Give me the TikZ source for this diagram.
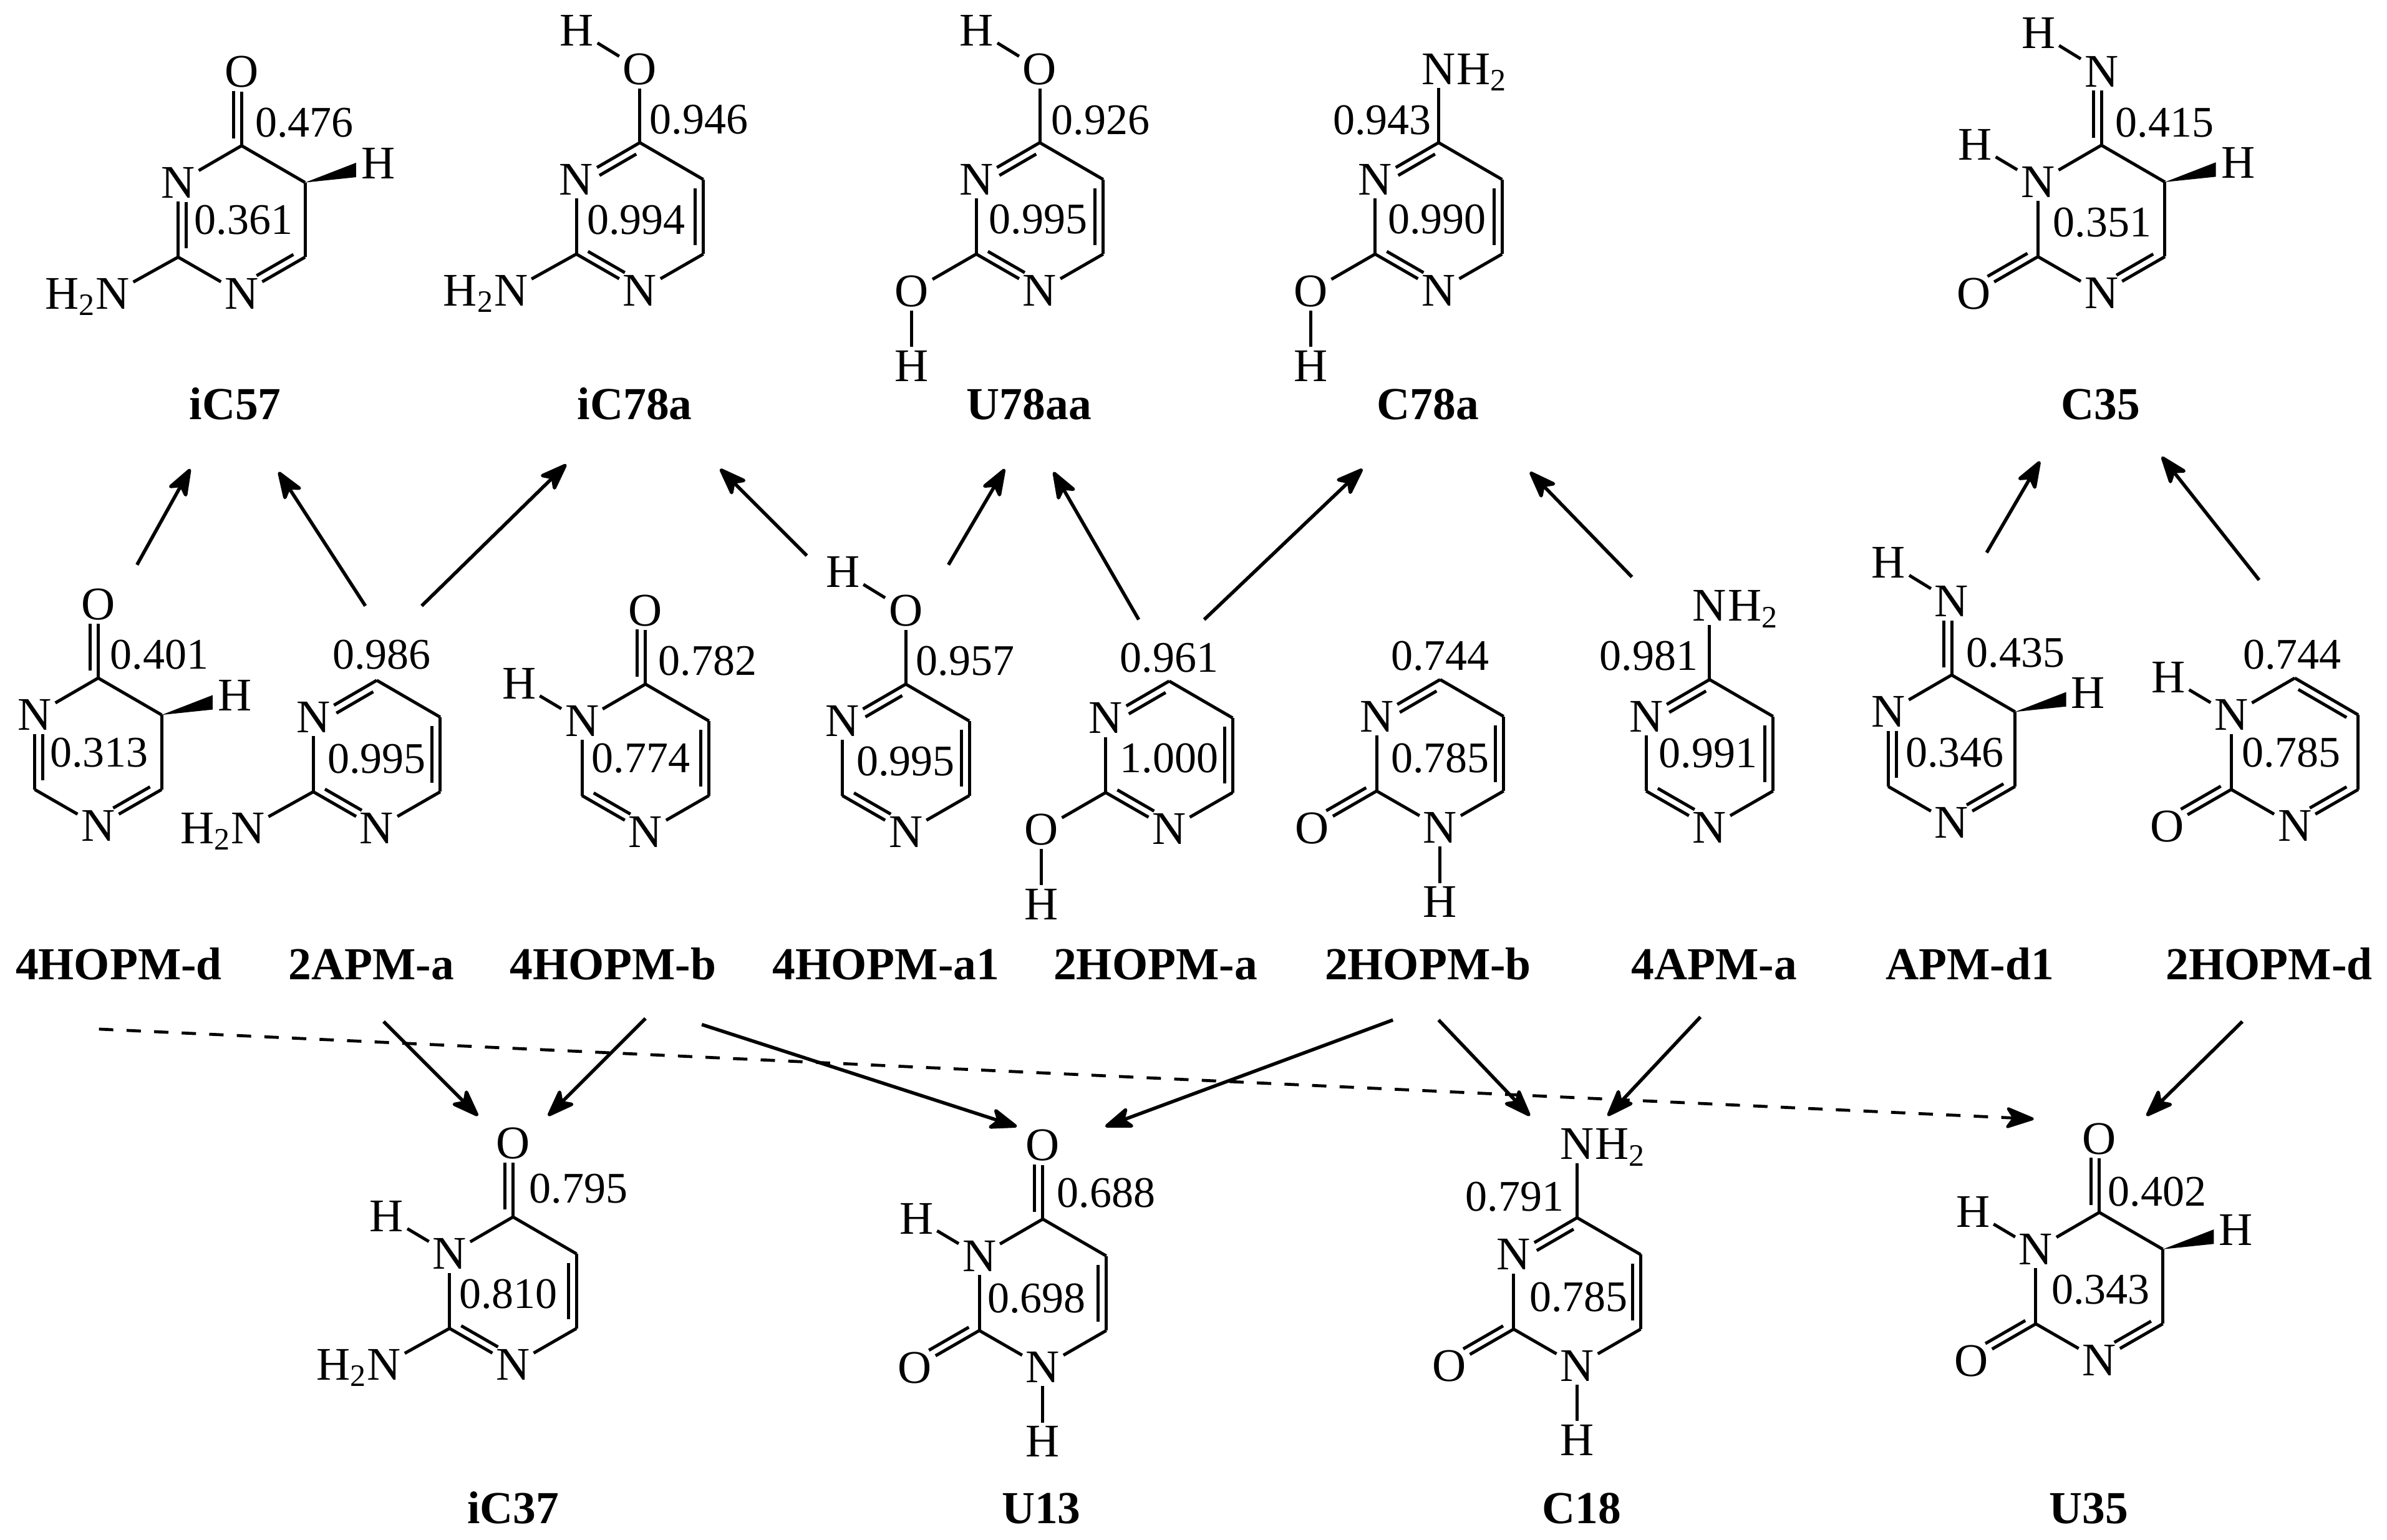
\documentclass[tikz,border=0pt]{standalone}
\usepackage{fontspec}
\setmainfont{Liberation Serif}
\usetikzlibrary{calc,arrows.meta}
\tikzset{
  atom/.style={inner sep=1pt,font=\fontsize{15}{15}\selectfont},
  val/.style={inner sep=0pt,font=\fontsize{14}{14}\selectfont},
  moltitle/.style={inner sep=0pt,anchor=base,font=\fontsize{14.7}{15}\selectfont\bfseries},
  bond/.style={line width=1pt},
  link/.style={line width=1.1pt,-{Stealth[length=10.4pt,width=7.6pt,inset=2.6pt,round]}},
  dashlink/.style={line width=.95pt,dash pattern=on 4.6pt off 4.25pt,-{Stealth[length=10.4pt,width=7.6pt,inset=2.6pt,round]}}
}
\newcommand\subH{H\raisebox{-.3ex}{\fontsize{10}{10}\selectfont 2}}
\newcommand\pyr{%
  \coordinate (T) at (0,-48.6);
  \coordinate (UR) at (41.7,-24.4);
  \coordinate (LR) at (41.7,24.6);
  \coordinate (LL) at (-41.7,24.6);
  \node[atom] (UL) at (-41.7,-24.4) {N};
  \node[atom] (B) at (0,48.6) {N};
}
\newcommand\bondS[2]{\draw[bond] (#1) -- (#2);}
\newcommand\dbl[5]{\draw[bond] (#1) -- (#2);
  \draw[bond] ($(#1)!#4!(#2)!2.6pt!#3:(#2)$) -- ($(#1)!#5!(#2)!2.6pt!#3:(#2)$);}
% ring patterns (clockwise, the inner line on the right of the way)
\newcommand\rUT{\dbl{UL}{T}{-90}{.30}{.88}}
\newcommand\rTU{\dbl{T}{UR}{-90}{.12}{.88}}
\newcommand\rUL{\dbl{UR}{LR}{-90}{.12}{.88}}
\newcommand\rLB{\dbl{LR}{B}{-90}{.12}{.70}}
\newcommand\rBL{\dbl{B}{LL}{-90}{.30}{.88}}
\newcommand\rLU{\dbl{LL}{UL}{-90}{.12}{.74}}
\newcommand\patA{\rUT\bondS{T}{UR}\rUL\bondS{LR}{B}\rBL\bondS{LL}{UL}}
\newcommand\patB{\bondS{UL}{T}\bondS{T}{UR}\bondS{UR}{LR}\rLB\bondS{B}{LL}\rLU}
\newcommand\patC{\bondS{UL}{T}\bondS{T}{UR}\bondS{UR}{LR}\rLB\bondS{B}{LL}\bondS{LL}{UL}}
\newcommand\patD{\bondS{UL}{T}\bondS{T}{UR}\rUL\bondS{LR}{B}\rBL\bondS{LL}{UL}}
\newcommand\patE{\rUT\bondS{T}{UR}\rUL\bondS{LR}{B}\bondS{B}{LL}\bondS{LL}{UL}}
\newcommand\patF{\bondS{UL}{T}\bondS{T}{UR}\rUL\bondS{LR}{B}\bondS{B}{LL}\bondS{LL}{UL}}
\newcommand\patG{\bondS{UL}{T}\rTU\bondS{UR}{LR}\rLB\bondS{B}{LL}\bondS{LL}{UL}}
% substituents
\newcommand\topO{\node[atom] (X) at (0,-97) {O};\dbl{T}{X}{90}{.1}{.74}}
\newcommand\topOH{\node[atom] (X) at (0,-97) {O};\node[atom] (XH) at (-41.4,-122.4) {H};\bondS{T}{X}\bondS{XH}{X}}
\newcommand\topNH{\node[atom] (X) at (0,-97) {N};\node[atom] (XH) at (-41.4,-122.4) {H};\dbl{T}{X}{90}{.1}{.74}\bondS{XH}{X}}
\newcommand\topNtwo{\node[atom] (X) at (0,-97) {N};\node[atom,anchor=base west,inner sep=0pt,xshift=-1pt] (XH) at (X.base east) {\subH};\bondS{T}{X}}
\newcommand\ulH{\node[atom] (UH) at (-83,-49) {H};\bondS{UH}{UL}}
\newcommand\llO{\node[atom] (Y) at (-84,49) {O};\dbl{LL}{Y}{-90}{.1}{.72}}
\newcommand\llOH{\node[atom] (Y) at (-84,49) {O};\node[atom] (YH) at (-84,98) {H};\bondS{LL}{Y}\bondS{Y}{YH}}
\newcommand\llNtwo{\node[atom] (Y) at (-84.7,48.5) {N};\node[atom,anchor=base east,inner sep=0pt,xshift=1pt] (YH) at (Y.base west) {\subH};\bondS{LL}{Y}}
\newcommand\bH{\node[atom] (BH) at (0,97.5) {H};\bondS{B}{BH}}
\newcommand\wedgeH{\node[atom] (Hw) at (89.7,-37) {H};
  \coordinate (w1) at (75.2,-37.4);\coordinate (w2) at (75.2,-27.9);
  \fill (UR) -- (w1) -- (w2) -- cycle;}
\newcommand\mol[3]{\begin{scope}[shift={(#2)},name prefix=#1-]\pyr #3\end{scope}}
\newcommand\vall[3]{\node[val] (#1) at (#2) {#3};}
\newcommand\arrowlink[3]{\coordinate (#1s) at (#2);\coordinate (#1e) at (#3);\draw[link] (#1s) -- (#1e);}
\begin{document}
\begin{tikzpicture}[x=0.48814pt,y=-0.48814pt]
\path[use as bounding box,fill=white] (0,0) rectangle (1568,1011.6);
% top row
\mol{iCa}{158.7,144.3}{\patB\topO\llNtwo\wedgeH}
\vall{v1}{200,80.5}{0.476}\vall{v2}{160,144.6}{0.361}
\node[moltitle] (t1) at (154.5,275.7) {iC57};
\mol{iCb}{420.3,142.3}{\patA\topOH\llNtwo}
\vall{v3}{459,78.4}{0.946}\vall{v4}{418,144.6}{0.994}
\node[moltitle] (t2) at (417,275.7) {iC78a};
\mol{Ua}{683,142.3}{\patA\topOH\llOH}
\vall{v5}{723,79}{0.926}\vall{v6}{682,144}{0.995}
\node[moltitle] (t3) at (676,275.7) {U78aa};
\mol{Ca}{945,142.3}{\patA\topNtwo\llOH}
\vall{v7}{908,79}{0.943}\vall{v8}{944,144}{0.990}
\node[moltitle] (t4) at (938,275.7) {C78a};
\mol{Cb}{1380.4,144}{\patC\topNH\ulH\llO\wedgeH}
\vall{v9}{1422,80.6}{0.415}\vall{v10}{1381,146.3}{0.351}
\node[moltitle] (t5) at (1380,275.7) {C35};
% middle row
\mol{Ma}{64.5,494}{\patB\topO\wedgeH}
\vall{m1}{104.6,430}{0.401}\vall{m2}{65.2,494.6}{0.313}
\node[moltitle] (n1) at (78,643.4) {4HOPM-d};
\mol{Mb}{247.5,495.5}{\patA\llNtwo}
\vall{m3}{250.7,430}{0.986}\vall{m4}{247.4,498.4}{0.995}
\node[moltitle] (n2) at (244,643.4) {2APM-a};
\mol{Mc}{424,498}{\patD\topO\ulH}
\vall{m5}{464.8,434}{0.782}\vall{m6}{421,498}{0.774}
\node[moltitle] (n3) at (402.6,643.4) {4HOPM-b};
\mol{Md}{595,498}{\patA\topOH}
\vall{m7}{634,434}{0.957}\vall{m8}{595,500}{0.995}
\node[moltitle] (n4) at (582,643.4) {4HOPM-a1};
\mol{Me}{768,496}{\patA\llOH}
\vall{m9}{768,432}{0.961}\vall{m10}{768,498}{1.000}
\node[moltitle] (n5) at (759,643.4) {2HOPM-a};
\mol{Mf}{946,495}{\patE\llO\bH}
\vall{m11}{946,431}{0.744}\vall{m12}{946,498}{0.785}
\node[moltitle] (n6) at (938,643.4) {2HOPM-b};
\mol{Mg}{1123,495}{\patA\topNtwo}
\vall{m13}{1083,431}{0.981}\vall{m14}{1122,495}{0.991}
\node[moltitle] (n7) at (1126,643.4) {4APM-a};
\mol{Mh}{1282,492}{\patB\topNH\wedgeH}
\vall{m15}{1324,428.7}{0.435}\vall{m16}{1284,494.6}{0.346}
\node[moltitle] (n8) at (1294,643.4) {APM-d1};
\mol{Mi}{1507.4,494}{\patG\ulH\llO}
\vall{m17}{1505.8,430}{0.744}\vall{m18}{1505,494.6}{0.785}
\node[moltitle] (n9) at (1490.6,643.4) {2HOPM-d};
% bottom row
\mol{Ba}{337,848}{\patD\topO\ulH\llNtwo}
\vall{b1}{380,781}{0.795}\vall{b2}{334,850}{0.810}
\node[moltitle] (u1) at (337,1000.8) {iC37};
\mol{Bb}{685,849.4}{\patF\topO\ulH\llO\bH}
\vall{b3}{726.6,783.8}{0.688}\vall{b4}{681,853}{0.698}
\node[moltitle] (u2) at (684,1000.8) {U13};
\mol{Bc}{1036,848.5}{\patE\topNtwo\llO\bH}
\vall{b5}{995,786}{0.791}\vall{b6}{1037,852}{0.785}
\node[moltitle] (u3) at (1039,1000.8) {C18};
\mol{Bd}{1379,845}{\patC\topO\ulH\llO\wedgeH}
\vall{b7}{1417,783}{0.402}\vall{b8}{1380,847}{0.343}
\node[moltitle] (u4) at (1372,1000.8) {U35};
% arrows
\arrowlink{a1}{90,371}{125,308}
\arrowlink{a2}{240,398}{183,310}
\arrowlink{a3}{277,398}{372,305}
\arrowlink{a4}{530,365}{473,308}
\arrowlink{a5}{623,371}{660,308}
\arrowlink{a6}{748,407}{692,310}
\arrowlink{a7}{791,407}{895,308}
\arrowlink{a8}{1072,379}{1005,310}
\arrowlink{a9}{1305,363}{1340,303}
\arrowlink{a10}{1484,381}{1420,300}
\arrowlink{c1}{252,671}{314,733}
\arrowlink{c2}{424,669}{360,733}
\arrowlink{c3}{461,673}{668,740}
\arrowlink{c4}{915,670}{726,740}
\arrowlink{c5}{945,670}{1005,733}
\arrowlink{c6}{1117,668}{1056,733}
\arrowlink{c7}{1473,671}{1410,733}
\coordinate (ds) at (65,676);\coordinate (de) at (1336,735);
\draw[dashlink] (ds) -- (de);
\end{tikzpicture}
\end{document}
